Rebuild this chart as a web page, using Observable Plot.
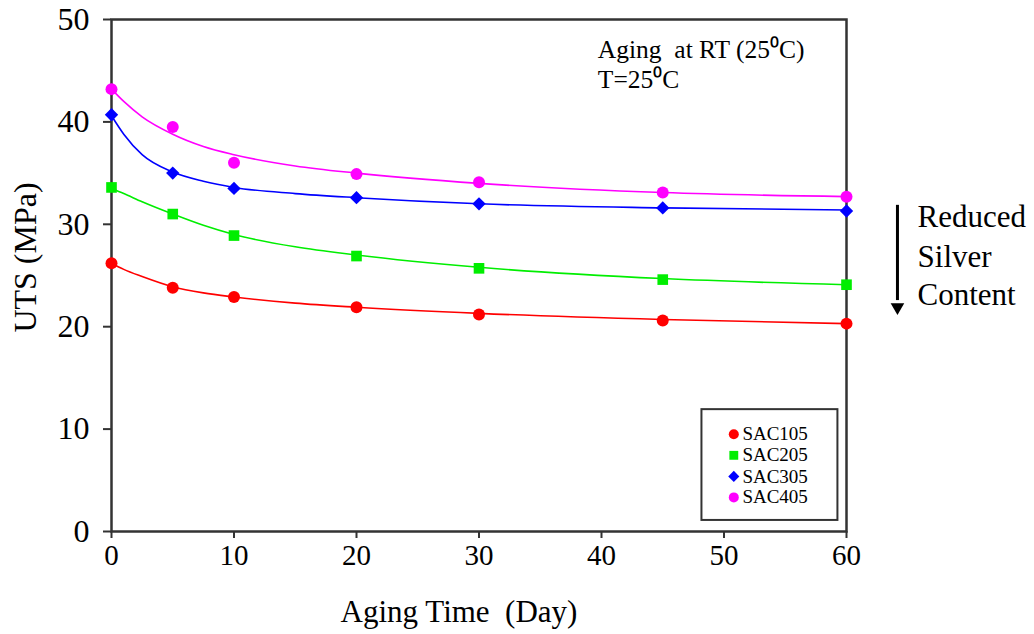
<!DOCTYPE html>
<html>
<head>
<meta charset="utf-8">
<script src="https://cdn.jsdelivr.net/npm/d3@7"></script>
<script src="https://cdn.jsdelivr.net/npm/@observablehq/plot@0.6"></script>
<style>
  html, body { margin: 0; padding: 0; background: #fff; }
  #chart svg { display: block; }
  #chart svg text { font-family: "Liberation Serif", serif !important; }
</style>
</head>
<body>
<div id="chart"></div>
<script>
// ---- Data ----
const seriesNames = ["SAC105", "SAC205", "SAC305", "SAC405"];
const seriesColors = ["#ff0000", "#00ee00", "#0000ff", "#ff00ff"];
const seriesSymbols = ["circle", "square", "diamond2", "circle"];

const days = [0, 5, 10, 20, 30, 45, 60];
const sac105 = [26.2, 23.8, 22.9, 21.9, 21.2, 20.6, 20.3];
const sac205 = [33.6, 31.0, 28.9, 26.9, 25.7, 24.6, 24.1];
const sac305 = [40.7, 35.0, 33.5, 32.6, 32.0, 31.6, 31.3];
const sac405 = [43.2, 39.5, 36.0, 34.9, 34.1, 33.1, 32.7];

// fitted trend curves
const fitDays = [0, 1, 2.5, 5, 7.5, 10, 15, 20, 30, 45, 60];
const fit105 = [26.2, 25.6, 24.9, 23.9, 23.3, 22.9, 22.3, 21.9, 21.3, 20.7, 20.3];
const fit205 = [33.5, 33.0, 32.2, 31.0, 29.9, 29.0, 27.8, 27.0, 25.8, 24.7, 24.1];
const fit305 = [40.6, 38.8, 36.8, 35.1, 34.2, 33.6, 33.0, 32.6, 32.0, 31.6, 31.4];
const fit405 = [43.2, 42.0, 40.5, 38.8, 37.6, 36.8, 35.7, 35.0, 34.0, 33.1, 32.7];

const xTicks = [0, 10, 20, 30, 40, 50, 60];
const yTicks = [0, 10, 20, 30, 40, 50];

const xTitle = "Aging Time  (Day)";
const yTitle = "UTS (MPa)";
const noteLines = ["Aging  at RT (25\u2070C)", "T=25\u2070C"];
const sideLines = ["Reduced", "Silver", "Content"];

// ---- build tables ----
const values = [sac105, sac205, sac305, sac405];
const fits = [fit105, fit205, fit305, fit405];
const points = seriesNames.flatMap((s, i) => days.map((d, j) => ({series: s, day: d, uts: values[i][j]})));
const curves = seriesNames.flatMap((s, i) => fitDays.map((d, j) => ({series: s, day: d, uts: fits[i][j]})));

// annotation layout (data units)
const legendBox = {x1: 48.2, x2: 59.3, y1: 1.08, y2: 11.9};
const legendMarkX = 50.8, legendTextX = 51.5;
const legendRowY = [9.5, 7.44, 5.38, 3.33];
const noteX = 39.7, noteY = [47.0, 44.1];
const sideX = 65.8, sideY = [30.7, 26.8, 23.1];
const arrowX = 64.16, arrowY1 = 31.9, arrowY2 = 22.6, arrowHeadY = 21.9;

const serif = "Liberation Serif";

const plot = Plot.plot({
  width: 1034,
  height: 634,
  marginLeft: 111,
  marginRight: 188,
  marginTop: 19,
  marginBottom: 103,
  style: {fontFamily: serif, background: "#fff", color: "#000", overflow: "visible"},
  x: {domain: [0, 60]},
  y: {domain: [0, 50]},
  color: {domain: seriesNames, range: seriesColors},
  symbol: {domain: seriesNames, range: seriesSymbols},
  marks: [
    Plot.axisX({ticks: xTicks, tickSize: 7, tickPadding: 6, fontSize: 29, fontFamily: serif, label: null, stroke: "#333", strokeWidth: 2, color: "#000"}),
    Plot.axisY({ticks: yTicks, tickSize: 8, tickPadding: 14, fontSize: 32, fontFamily: serif, label: null, stroke: "#333", strokeWidth: 2, color: "#000"}),
    Plot.frame({stroke: "#333", strokeWidth: 2.5}),
    Plot.line(curves, {x: "day", y: "uts", z: "series", stroke: "series", strokeWidth: 1.6, curve: "monotone-x"}),
    Plot.dot(points, {x: "day", y: "uts", fill: "series", symbol: "series", r: 6}),
    // legend
    Plot.rect([legendBox], {x1: "x1", x2: "x2", y1: "y1", y2: "y2", fill: "#fff", stroke: "#333", strokeWidth: 2}),
    Plot.dot(seriesNames, {x: () => legendMarkX, y: (d, i) => legendRowY[i], fill: d => d, symbol: d => d, r: 5}),
    Plot.text(seriesNames, {x: () => legendTextX, y: (d, i) => legendRowY[i], text: d => d, textAnchor: "start", fontSize: 19, fontFamily: serif, fill: "#000"}),
    // notes
    Plot.text(noteLines, {x: () => noteX, y: (d, i) => noteY[i], text: d => d, textAnchor: "start", fontSize: 25.5, fontFamily: serif, fill: "#000"}),
    Plot.text(sideLines, {x: () => sideX, y: (d, i) => sideY[i], text: d => d, textAnchor: "start", fontSize: 31, fontFamily: serif, fill: "#000"}),
    Plot.link([0], {x1: () => arrowX, x2: () => arrowX, y1: () => arrowY1, y2: () => arrowY2, stroke: "#000", strokeWidth: 3}),
    Plot.dot([0], {x: () => arrowX, y: () => arrowHeadY, symbol: "triangle2", rotate: 180, fill: "#000", r: 6.5}),
    // axis titles
    Plot.text([xTitle], {frameAnchor: "bottom", lineAnchor: "middle", dy: 81, dx: -20, fontSize: 31, fontFamily: serif, fill: "#000"}),
    Plot.text([yTitle], {frameAnchor: "left", textAnchor: "middle", lineAnchor: "middle", rotate: -90, dx: -86, dy: -18, fontSize: 32, fontFamily: serif, fill: "#000"})
  ]
});

document.getElementById("chart").appendChild(plot);
</script>
</body>
</html>
